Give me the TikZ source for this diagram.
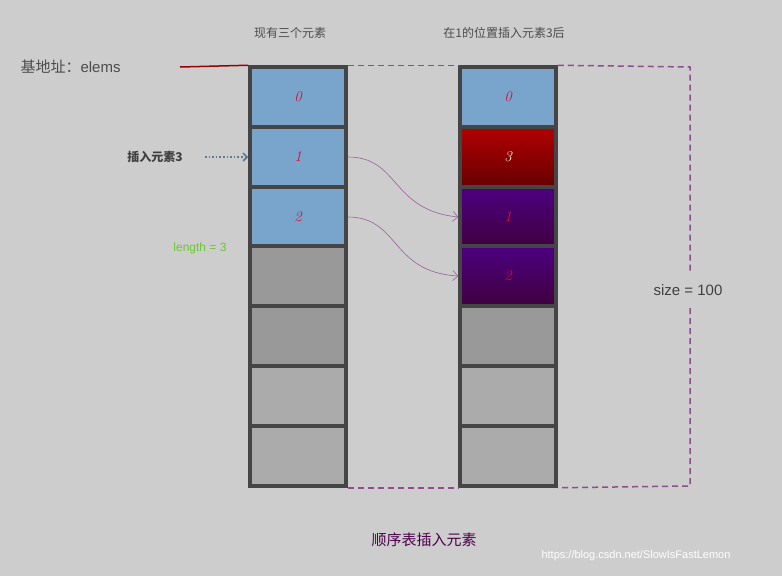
\documentclass[tikz,border=0pt]{standalone}
\usepackage{fontspec}
\setsansfont{Liberation Sans}
\newfontfamily\cjk{Noto Sans CJK SC}
\usetikzlibrary{arrows.meta,shadings}
\definecolor{bg}{HTML}{CDCDCD}
\definecolor{cellblue}{HTML}{79A5CC}
\definecolor{cellgray}{HTML}{999999}
\definecolor{celllight}{HTML}{ABABAB}
\definecolor{edge}{HTML}{454545}
\definecolor{dpurple}{HTML}{8E4E8E}
\definecolor{num}{HTML}{D0103A}
\definecolor{slatec}{HTML}{5F7A92}
\begin{document}
\begin{tikzpicture}[x=1pt,y=-1pt,
  cell/.style={draw=edge,line width=3.5pt,minimum width=96pt,minimum height=60pt,inner sep=0pt,font=\itshape\fontsize{15}{15}\selectfont,text=num},
  redcell/.style={cell,top color=red!70!black,bottom color=red!40!black,text=white!85!yellow},
  purcell/.style={cell,top color=violet!75!blue!80!black,bottom color=violet!50!black},
  move/.style={draw=dpurple!90,line width=0.6pt,-{Straight Barb[length=5pt]}},
  bound/.style={draw=dpurple,line width=1.5pt,dash pattern=on 6pt off 4pt}]
\fill[bg] (0,0) rectangle (782,576);
\useasboundingbox (0,0) rectangle (782,576);
% left column
\node[cell,fill=cellblue] (a0) at (298,97) {0};
\node[cell,fill=cellblue] (a1) at (298,157) {1};
\node[cell,fill=cellblue] (a2) at (298,217) {2};
\node[cell,fill=cellgray] (a3) at (298,276) {};
\node[cell,fill=cellgray] (a4) at (298,336) {};
\node[cell,fill=celllight] (a5) at (298,396) {};
\node[cell,fill=celllight] (a6) at (298,456) {};
% right column
\node[cell,fill=cellblue] (b0) at (508,97) {0};
\node[redcell] (b1) at (508,157) {3};
\node[purcell] (b2) at (508,217) {1};
\node[purcell] (b3) at (508,276) {2};
\node[cell,fill=cellgray] (b4) at (508,336) {};
\node[cell,fill=celllight] (b5) at (508,396) {};
\node[cell,fill=celllight] (b6) at (508,456) {};
% bounds
\coordinate (tr) at (690,67);
\coordinate (br) at (690,486);
\draw[bound] (a0.north east) -- (b0.north west);
\draw[bound] (b0.north east) -- (tr) -- (690,272);
\draw[bound] (690,308) -- (br) -- (b6.south east);
\draw[bound] (a6.south east) -- (b6.south west);
\node[font=\sffamily\fontsize{15}{15}\selectfont,text=black!75] (size) at (688,290) {size = 100};
% labels
\node[font=\cjk\fontsize{12}{12}\selectfont,text=black!70] (t1) at (290,33) {现有三个元素};
\node[font=\cjk\fontsize{12}{12}\selectfont,text=black!70] (t2) at (504,33) {在1的位置插入元素3后};
\node[anchor=west,font=\fontsize{15}{15}\selectfont,text=black!70] (base) at (17,67) {\cjk 基地址：\sffamily elems};
\coordinate (rs) at (180,67);
\draw[red!60!black,line width=1.5pt] (rs) -- (a0.north west);
\node[font=\cjk\bfseries\fontsize{12}{12}\selectfont,text=black!75] (ins) at (155,157) {插入元素3};
\draw[draw=slatec,line width=1.6pt,dotted,-{Straight Barb[length=4pt]}] (205,157) -- (a1.west);
\node[font=\sffamily\fontsize{12}{12}\selectfont,text=green!45!olive!80] (len) at (200,248) {length = 3};
\draw[move] (a1.east) .. controls (400,157) and (390,210) .. (b2.west);
\draw[move] (a2.east) .. controls (400,217) and (390,272) .. (b3.west);
\node[font=\cjk\fontsize{15}{15}\selectfont,text=violet!60!black] (cap) at (424,540) {顺序表插入元素};
\node[font=\sffamily\fontsize{11}{11}\selectfont,text=white] (wm) at (636,556) {https://blog.csdn.net/SlowIsFastLemon};
\end{tikzpicture}
\end{document}
